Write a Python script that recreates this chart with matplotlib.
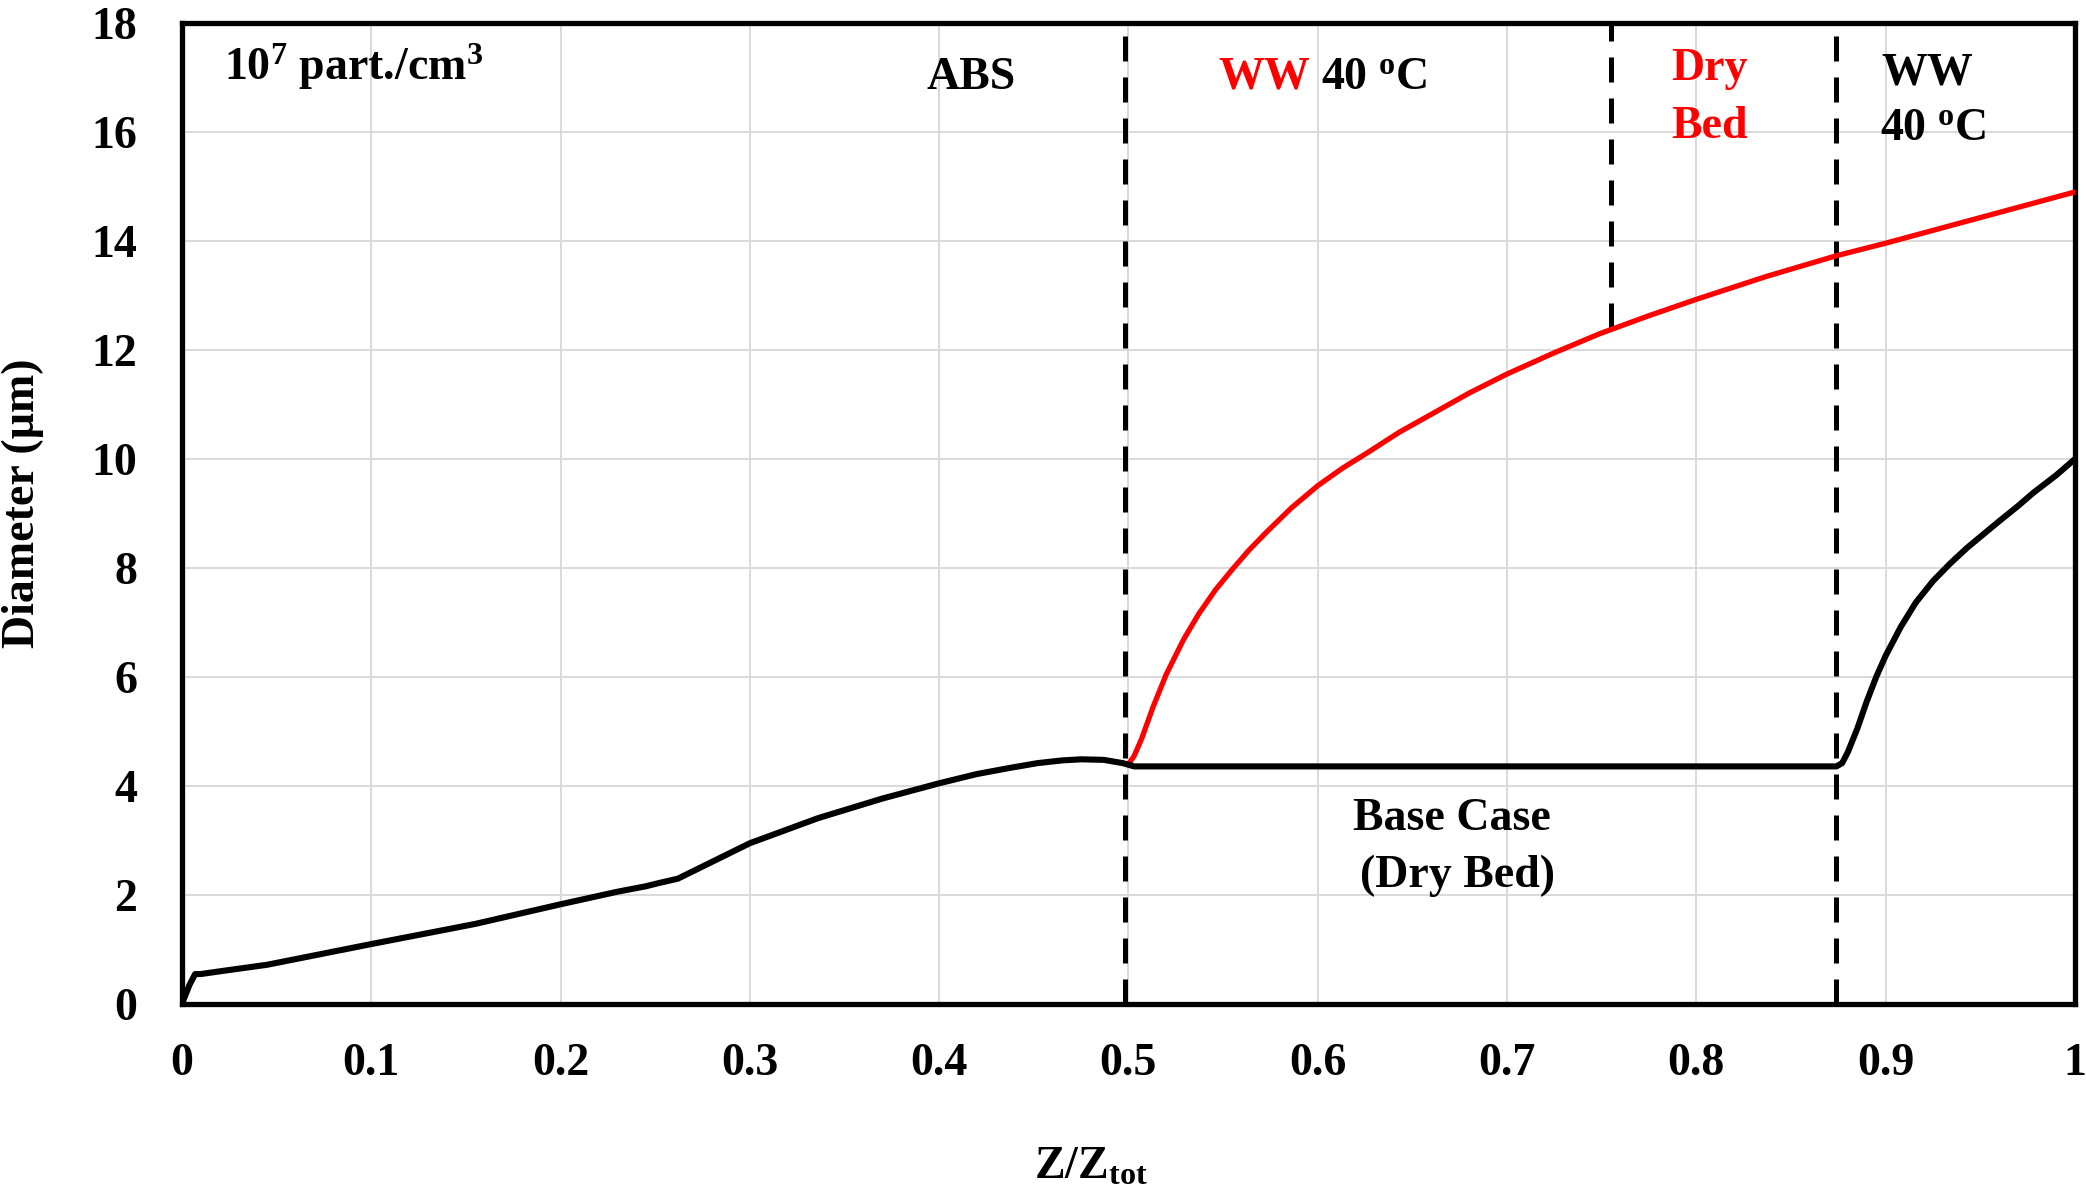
import numpy as np
import matplotlib
matplotlib.use("Agg")
import matplotlib.pyplot as plt

plt.rcParams['font.family'] = 'Liberation Serif'
plt.rcParams['font.weight'] = 'bold'
plt.rcParams['mathtext.fontset'] = 'custom'
plt.rcParams['mathtext.rm'] = 'Liberation Serif:bold'
plt.rcParams['mathtext.bf'] = 'Liberation Serif:bold'
plt.rcParams['mathtext.it'] = 'Liberation Serif:bold'
plt.rcParams['mathtext.default'] = 'rm'

# base case (dry bed) - black
base_x = [0, 0.004, 0.007, 0.010, 0.02, 0.045, 0.1, 0.155, 0.2, 0.23, 0.245, 0.252, 0.262,
          0.3, 0.336, 0.37, 0.4, 0.42, 0.437, 0.452, 0.465, 0.475, 0.487, 0.497, 0.503,
          0.874, 0.877, 0.880, 0.885, 0.890, 0.895, 0.900, 0.908, 0.916, 0.925, 0.934,
          0.943, 0.952, 0.960, 0.970, 0.978, 0.99, 1.0]
base_y = [0, 0.35, 0.55, 0.55, 0.60, 0.72, 1.10, 1.47, 1.83, 2.06, 2.16, 2.22, 2.30,
          2.95, 3.41, 3.77, 4.05, 4.22, 4.33, 4.42, 4.47, 4.49, 4.48, 4.42, 4.36,
          4.36, 4.42, 4.62, 5.05, 5.55, 6.0, 6.39, 6.92, 7.37, 7.76, 8.08,
          8.37, 8.63, 8.86, 9.14, 9.38, 9.70, 10.0]

# WW 40 oC case - red
ww_x = [0.497, 0.500, 0.503, 0.507, 0.513, 0.520, 0.529, 0.537, 0.546, 0.555, 0.564, 0.573,
        0.586, 0.600, 0.613, 0.626, 0.643, 0.661, 0.680, 0.700, 0.725, 0.749, 0.775,
        0.800, 0.837, 0.874, 0.900, 0.950, 1.0]
ww_y = [4.42, 4.40, 4.55, 4.87, 5.45, 6.05, 6.68, 7.15, 7.60, 7.98, 8.34, 8.66,
        9.10, 9.51, 9.83, 10.11, 10.49, 10.84, 11.21, 11.56, 11.95, 12.30, 12.63,
        12.93, 13.35, 13.73, 13.96, 14.43, 14.90]

# section boundaries (dashed)
zone_x = [0.498, 0.755, 0.874]
zone_bottom = [0, 12.4, 0]

xticks = [0, 0.1, 0.2, 0.3, 0.4, 0.5, 0.6, 0.7, 0.8, 0.9, 1]
xtick_labels = ['0', '0.1', '0.2', '0.3', '0.4', '0.5', '0.6', '0.7', '0.8', '0.9', '1']
yticks = list(range(0, 19, 2))

fig = plt.figure(figsize=(20.86, 11.92), dpi=100)
ax = fig.add_axes([0.0872, 0.1577, 0.9075, 0.823])

ax.grid(True, color='#d9d9d9', lw=1.4, zorder=0)
for xb, yb in zip(zone_x, zone_bottom):
    ax.plot([xb, xb], [yb, 18], color='black', lw=3.6, dashes=(5, 3.2), zorder=2)

ax.plot(ww_x, ww_y, color='#ff0000', lw=3.8, zorder=3,
        solid_joinstyle='round', solid_capstyle='round')
ax.plot(base_x, base_y, color='black', lw=4.4, zorder=4,
        solid_joinstyle='round', solid_capstyle='round')

ax.set_xlim(0, 1)
ax.set_ylim(0, 18)
ax.set_xticks(xticks)
ax.set_xticklabels(xtick_labels)
ax.set_yticks(yticks)
ax.tick_params(length=0, labelsize=33)
ax.tick_params(axis='y', pad=32)
ax.tick_params(axis='x', pad=28)
for s in ax.spines.values():
    s.set_linewidth(3.8)
ax.set_axisbelow(True)

ax.set_ylabel('Diameter (µm)', fontsize=33, fontweight='bold')
ax.yaxis.set_label_coords(-0.073, 0.51)
ax.set_xlabel(r'Z/Z$_{\mathrm{tot}}$', fontsize=33, fontweight='bold')
ax.xaxis.set_label_coords(0.48, -0.145)

fs = 33
ax.text(0.022, 17.2, r'10$^{7}$ part./cm$^{3}$', fontsize=fs, va='center', ha='left')
ax.text(0.417, 17.0, 'ABS', fontsize=fs, va='center', ha='center')
ax.text(0.596, 17.0, 'WW', fontsize=fs, va='center', ha='right', color='#ff0000')
ax.text(0.6015, 17.0, r'40 $^{\mathrm{o}}$C', fontsize=fs, va='center', ha='left')
ax.text(0.807, 17.15, 'Dry', fontsize=fs, va='center', ha='center', color='#ff0000')
ax.text(0.807, 16.1, 'Bed', fontsize=fs, va='center', ha='center', color='#ff0000')
ax.text(0.898, 17.07, 'WW', fontsize=fs, va='center', ha='left')
ax.text(0.897, 16.05, r'40 $^{\mathrm{o}}$C', fontsize=fs, va='center', ha='left')
ax.text(0.671, 3.4, 'Base Case', fontsize=fs, va='center', ha='center')
ax.text(0.674, 2.35, '(Dry Bed)', fontsize=fs, va='center', ha='center')

fig.savefig('out.png', dpi=100)
